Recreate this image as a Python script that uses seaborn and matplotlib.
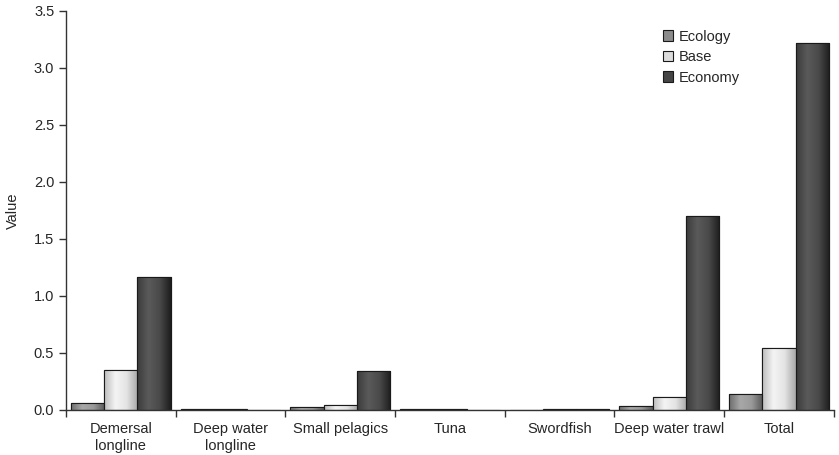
import numpy as np
import pandas as pd
import matplotlib
matplotlib.use("Agg")
import matplotlib.pyplot as plt
from matplotlib.colors import LinearSegmentedColormap
from matplotlib.patches import Patch
import seaborn as sns

categories = ["Demersal\nlongline", "Deep water\nlongline", "Small pelagics", "Tuna",
              "Swordfish", "Deep water trawl", "Total"]
series = ["Ecology", "Base", "Economy"]
ecology = [0.06, 0.005, 0.03, 0.005, 0.0, 0.035, 0.14]
base = [0.35, 0.012, 0.045, 0.005, 0.005, 0.11, 0.54]
economy = [1.17, 0.0, 0.34, 0.0, 0.005, 1.70, 3.22]

df = pd.DataFrame({
    "Category": categories * 3,
    "Scenario": sum([[s] * len(categories) for s in series], []),
    "Value": ecology + base + economy,
})

sns.set_style("ticks")
plt.rcParams["font.family"] = ["Liberation Sans", "DejaVu Sans"]

base_colors = {"Ecology": "#8c8c8c", "Base": "#dcdcdc", "Economy": "#454545"}
grads = {
    "Ecology": ["#6e6e6e", "#a8a8a8", "#9a9a9a", "#5a5a5a"],
    "Base": ["#bdbdbd", "#f4f4f4", "#e4e4e4", "#a9a9a9"],
    "Economy": ["#3c3c3c", "#5a5a5a", "#4a4a4a", "#1e1e1e"],
}

fig = plt.figure(figsize=(8.39, 4.55), dpi=100)
ax = fig.add_axes([0.0787, 0.099, 0.915, 0.877])
sns.barplot(data=df, x="Category", y="Value", hue="Scenario", order=categories,
            hue_order=series, palette=base_colors, width=0.91, edgecolor="#1a1a1a",
            linewidth=0.8, saturation=1, ax=ax, legend=False)

# gradient fill clipped to bars
n = len(categories)
for i, cont in enumerate(ax.containers):
    cmap = LinearSegmentedColormap.from_list("g", grads[series[i]])
    grad = np.linspace(0, 1, 64).reshape(1, -1)
    for p in cont.patches:
        x0, y0 = p.get_x(), p.get_y()
        w, h = p.get_width(), p.get_height()
        if h <= 0:
            continue
        im = ax.imshow(grad, cmap=cmap, aspect="auto", extent=[x0, x0 + w, y0, y0 + h],
                       zorder=p.get_zorder() + 0.1, interpolation="bicubic")
        im.set_clip_path(p)
        edge = plt.Rectangle((x0, y0), w, h, fill=False, edgecolor="#1a1a1a",
                             linewidth=0.8, zorder=p.get_zorder() + 0.2)
        ax.add_patch(edge)

ax.set_xlim(-0.5, n - 0.5)
ax.set_ylim(0, 3.5)
ax.set_yticks(np.arange(0, 3.51, 0.5))
ax.set_yticklabels([f"{v:.1f}" for v in np.arange(0, 3.51, 0.5)], fontsize=10.5)
ax.set_xticks(range(n))
ax.set_xticklabels(categories, fontsize=10.5, linespacing=1.25)
ax.tick_params(axis="x", which="major", length=0, pad=9)
ax.set_xticks(np.arange(-0.5, n, 1.0), minor=True)
ax.tick_params(axis="x", which="minor", length=5, width=1, color="#333333", direction="out")
ax.tick_params(axis="y", length=5, width=1, color="#333333", direction="out")
ax.set_xlabel("")
ax.set_ylabel("Value", fontsize=10.5, labelpad=10)
for s in ["top", "right"]:
    ax.spines[s].set_visible(False)
for s in ["left", "bottom"]:
    ax.spines[s].set_color("#333333")
    ax.spines[s].set_linewidth(1)

handles = [Patch(facecolor=base_colors[s], edgecolor="#1a1a1a", linewidth=0.8, label=s)
           for s in series]
ax.legend(handles=handles, loc="upper left", bbox_to_anchor=(0.770, 0.968), frameon=False,
          fontsize=10.5, handlelength=0.7, handleheight=0.7, handletextpad=0.35,
          labelspacing=0.45, borderaxespad=0)

fig.savefig("out.png", dpi=100)
